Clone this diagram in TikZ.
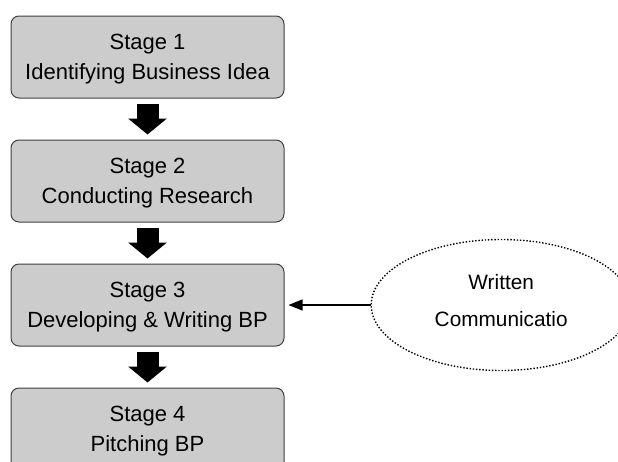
\documentclass[tikz,border=0pt]{standalone}
\usepackage{fontspec}
\setmainfont{Liberation Sans}
\usetikzlibrary{positioning, arrows.meta, shapes.geometric}
\definecolor{stagefill}{RGB}{204,204,204}
\definecolor{stageline}{RGB}{64,64,64}

\begin{document}
\begin{tikzpicture}[x=1pt, y=1pt, node distance=41pt,
    stagebox/.style={draw=stageline, line width=1pt, fill=stagefill, rounded corners=8pt, minimum width=273pt, minimum height=82pt, align=center, text depth=0pt, font=\fontsize{22}{30}\selectfont},
    blockarrow/.style={line width=22pt, -{Triangle[length=16pt, width=38pt]}, shorten <=5pt, shorten >=5pt},
    bubble/.style={ellipse, draw, line width=1.4pt, dash pattern=on 1.4pt off 1.8pt, minimum width=260pt, minimum height=131pt, inner sep=0pt, align=center, text depth=9pt, font=\fontsize{20.8}{37}\selectfont}]
    \useasboundingbox (0,0) rectangle (618,-461);
    \clip (0,0) rectangle (618,-461);
    % Stages
    \node[stagebox] (S1) at (147.5,-57) {Stage 1\\Identifying Business Idea};
    \node[stagebox, below=of S1] (S2) {Stage 2\\Conducting Research};
    \node[stagebox, below=of S2] (S3) {Stage 3\\Developing \& Writing BP};
    \node[stagebox, below=of S3] (S4) {Stage 4\\Pitching BP};
    
    % Written communication
    \node[bubble, right=86pt of S3] (W) {Written\\Communicatio};
    
    \draw[blockarrow] (S1) -- (S2);
    \draw[blockarrow] (S2) -- (S3);
    \draw[blockarrow] (S3) -- (S4);
    
    \draw[line width=1.2pt, -{Triangle[length=14pt, width=11pt]}, shorten >=4pt] (W.west) -- (S3.east);
  \end{tikzpicture}
\end{document}
